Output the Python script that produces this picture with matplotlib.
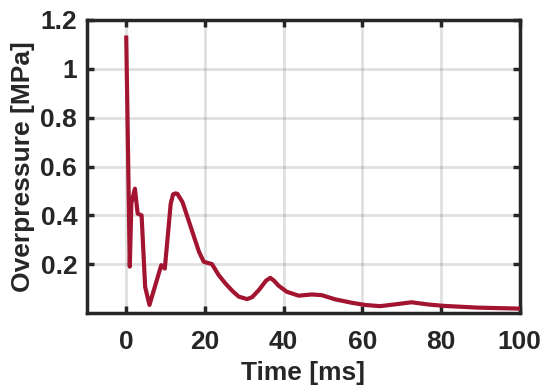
import matplotlib
matplotlib.use("Agg")
import matplotlib.pyplot as plt
import numpy as np

time_ms = [0.0, 0.9, 1.3, 2.2, 2.9, 3.9, 4.8, 5.9, 7.5, 8.9, 9.8, 11.3, 11.9, 12.5, 13.0, 14.3,
           16.4, 18.5, 19.7, 21.8, 23.5, 25.2, 27.0, 28.6, 30.7, 32.0, 33.7, 35.5, 36.6, 37.5,
           38.7, 40.8, 43.8, 47.2, 49.7, 53.1, 57.3, 60.7, 64.5, 69.1, 72.5, 76.7, 80.9,
           89.4, 100.0]
overpressure = [1.128, 0.19, 0.45, 0.509, 0.407, 0.40, 0.107, 0.033, 0.12, 0.196, 0.182,
                0.448, 0.486, 0.49, 0.488, 0.454, 0.352, 0.25, 0.21, 0.2, 0.155, 0.121,
                0.09, 0.067, 0.057, 0.065, 0.094, 0.132, 0.144, 0.133, 0.112, 0.087, 0.071,
                0.076, 0.073, 0.056, 0.042, 0.033, 0.028, 0.037, 0.044, 0.035, 0.029,
                0.022, 0.018]
xticks = [0, 20, 40, 60, 80, 100]
yticks = [0.2, 0.4, 0.6, 0.8, 1.0, 1.2]
yticklabels = ["0.2", "0.4", "0.6", "0.8", "1", "1.2"]

plt.rcParams['font.family'] = ['Liberation Sans', 'DejaVu Sans']
plt.rcParams['font.weight'] = 'bold'

fig = plt.figure(figsize=(5.5, 3.92), dpi=100)
ax = fig.add_axes([0.158, 0.2015, 0.787, 0.7475])

ax.plot(time_ms, overpressure, color='#A2142F', lw=3.0, solid_joinstyle='round', zorder=3)

ax.set_xlim(-10, 100)
ax.set_ylim(0.0, 1.2)
ax.set_xticks(xticks)
ax.set_yticks(yticks)
ax.set_yticklabels(yticklabels)
ax.grid(True, color='#262626', alpha=0.14, lw=2.0)
ax.set_axisbelow(True)

for s in ax.spines.values():
    s.set_linewidth(2.5)
    s.set_color('#262626')

ax.tick_params(direction='in', length=5, width=2.5, colors='#262626',
               labelsize=19, top=True, right=True)
ax.tick_params(axis='x', pad=12)
ax.tick_params(axis='y', pad=7)
for lab in ax.get_xticklabels() + ax.get_yticklabels():
    lab.set_fontweight('bold')

ax.set_xlabel('Time [ms]', fontsize=19, fontweight='bold', color='#262626', labelpad=5)
ax.set_ylabel('Overpressure [MPa]', fontsize=19, fontweight='bold', color='#262626', labelpad=4)

fig.savefig('out.png', dpi=100)
